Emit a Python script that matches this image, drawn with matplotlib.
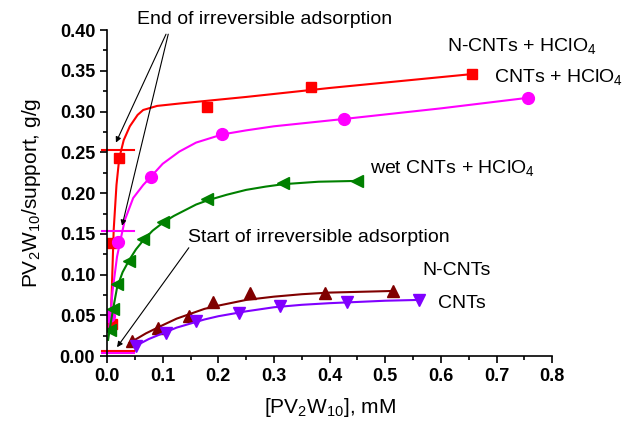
import matplotlib
matplotlib.use('Agg')
import matplotlib.pyplot as plt
from matplotlib.ticker import MultipleLocator

plt.rcParams['font.family'] = ['Liberation Sans', 'DejaVu Sans']
plt.rcParams['mathtext.default'] = 'regular'

## datos (mM, g/g)
# N-CNTs + HClO4
n_acid_x = [0.009, 0.009, 0.022, 0.180, 0.367, 0.655]
n_acid_y = [0.040, 0.139, 0.243, 0.306, 0.330, 0.346]
n_acid_fit_x = [0.006, 0.009, 0.012, 0.017, 0.022, 0.030, 0.041, 0.055, 0.065, 0.090, 0.131, 0.250, 0.400, 0.655]
n_acid_fit_y = [0.030, 0.090, 0.155, 0.210, 0.243, 0.265, 0.282, 0.296, 0.302, 0.307, 0.310, 0.318, 0.329, 0.346]

# CNTs + HClO4
c_acid_x = [0.003, 0.020, 0.079, 0.207, 0.426, 0.757]
c_acid_y = [0.049, 0.140, 0.220, 0.273, 0.291, 0.317]
c_acid_fit_x = [0.004, 0.010, 0.018, 0.025, 0.032, 0.047, 0.065, 0.080, 0.100, 0.130, 0.160, 0.207, 0.250, 0.300, 0.426, 0.600, 0.757]
c_acid_fit_y = [0.035, 0.080, 0.122, 0.145, 0.167, 0.194, 0.210, 0.221, 0.236, 0.251, 0.262, 0.272, 0.277, 0.282, 0.291, 0.304, 0.317]

# wet CNTs + HClO4
wet_x = [0.005, 0.011, 0.018, 0.040, 0.065, 0.101, 0.180, 0.317, 0.450]
wet_y = [0.032, 0.058, 0.089, 0.117, 0.144, 0.164, 0.193, 0.212, 0.215]
wet_fit_x = [0.002, 0.005, 0.011, 0.018, 0.028, 0.040, 0.052, 0.065, 0.082, 0.101, 0.120, 0.140, 0.160, 0.180, 0.215, 0.250, 0.285, 0.317, 0.380, 0.450]
wet_fit_y = [0.020, 0.034, 0.058, 0.084, 0.103, 0.118, 0.131, 0.142, 0.154, 0.164, 0.172, 0.179, 0.186, 0.191, 0.198, 0.204, 0.208, 0.211, 0.214, 0.215]

# N-CNTs
n_x = [0.045, 0.092, 0.148, 0.190, 0.257, 0.392, 0.514]
n_y = [0.019, 0.035, 0.049, 0.066, 0.078, 0.078, 0.080]
n_fit_x = [0.040, 0.070, 0.100, 0.125, 0.150, 0.175, 0.200, 0.250, 0.300, 0.350, 0.400, 0.515]
n_fit_y = [0.016, 0.028, 0.038, 0.046, 0.052, 0.058, 0.062, 0.069, 0.073, 0.076, 0.078, 0.080]

# CNTs
c_x = [0.052, 0.106, 0.160, 0.237, 0.310, 0.432, 0.561]
c_y = [0.012, 0.028, 0.043, 0.053, 0.062, 0.067, 0.069]
c_fit_x = [0.050, 0.075, 0.100, 0.125, 0.150, 0.175, 0.200, 0.250, 0.300, 0.350, 0.400, 0.500, 0.561]
c_fit_y = [0.012, 0.021, 0.028, 0.035, 0.040, 0.045, 0.049, 0.055, 0.060, 0.063, 0.065, 0.068, 0.069]

# limites de adsorcion irreversible
hl_x = [-0.009, 0.048]
end_red_y = 0.253
end_mag_y = 0.153
start_red_y = 0.0065
start_mag_y = 0.004

red = '#FF0000'
mag = '#FF00FF'
green = '#008000'
brown = '#800000'
violet = '#8000FF'

fig = plt.figure(figsize=(6.37, 4.24), dpi=100)
ax = fig.add_axes([0.168, 0.160, 0.699, 0.769])

ax.plot(n_acid_fit_x, n_acid_fit_y, color=red, lw=1.5)
ax.plot(n_acid_x, n_acid_y, 's', color=red, ms=7)
ax.plot(c_acid_fit_x, c_acid_fit_y, color=mag, lw=1.5)
ax.plot(c_acid_x, c_acid_y, 'o', color=mag, ms=8.5)
ax.plot(wet_fit_x, wet_fit_y, color=green, lw=1.5)
ax.plot(wet_x, wet_y, '<', color=green, ms=9)
ax.plot(n_fit_x, n_fit_y, color=brown, lw=1.5)
ax.plot(n_x, n_y, '^', color=brown, ms=9)
ax.plot(c_fit_x, c_fit_y, color=violet, lw=1.5)
ax.plot(c_x, c_y, 'v', color=violet, ms=9)

ax.plot(hl_x, [end_red_y] * 2, color=red, lw=1.5, clip_on=False)
ax.plot(hl_x, [end_mag_y] * 2, color=mag, lw=1.5, clip_on=False)
ax.plot(hl_x, [start_red_y] * 2, color=red, lw=1.5, clip_on=False)
ax.plot(hl_x, [start_mag_y] * 2, color=mag, lw=1.5, clip_on=False)

## textos y flechas
fs = 14
ax.text(0.054, 0.413, 'End of irreversible adsorption', fontsize=fs, va='center')
ax.text(0.146, 0.145, 'Start of irreversible adsorption', fontsize=fs, va='center')
arrow = dict(arrowstyle='-|>', color='k', lw=0.8, mutation_scale=8, shrinkA=0, shrinkB=0)
ax.annotate('', xy=(0.016, 0.262), xytext=(0.106, 0.395), arrowprops=arrow)
ax.annotate('', xy=(0.027, 0.160), xytext=(0.110, 0.395), arrowprops=arrow)
ax.annotate('', xy=(0.018, 0.011), xytext=(0.147, 0.133), arrowprops=arrow)

ax.text(0.610, 0.380, 'N-CNTs + HClO$_4$', fontsize=fs, va='center')
ax.text(0.696, 0.343, 'CNTs + HClO$_4$', fontsize=fs, va='center', clip_on=False)
ax.text(0.473, 0.231, 'wet CNTs + HClO$_4$', fontsize=fs, va='center')
ax.text(0.567, 0.105, 'N-CNTs', fontsize=fs, va='center')
ax.text(0.595, 0.065, 'CNTs', fontsize=fs, va='center')

ax.set_xlim(0, 0.8)
ax.set_ylim(0, 0.4)
ax.xaxis.set_major_locator(MultipleLocator(0.1))
ax.xaxis.set_minor_locator(MultipleLocator(0.05))
ax.yaxis.set_major_locator(MultipleLocator(0.05))
ax.yaxis.set_minor_locator(MultipleLocator(0.025))
ax.set_xticklabels([f'{v:.1f}' for v in ax.get_xticks()])
ax.set_yticklabels([f'{v:.2f}' for v in ax.get_yticks()])
for lab in ax.get_xticklabels() + ax.get_yticklabels():
    lab.set_fontweight('bold')
ax.tick_params(which='major', direction='out', length=5, width=1.2, labelsize=13)
ax.tick_params(which='minor', direction='out', length=3, width=1.2)
ax.spines['top'].set_visible(False)
ax.spines['right'].set_visible(False)
ax.spines['left'].set_linewidth(1.2)
ax.spines['bottom'].set_linewidth(1.2)

ax.set_xlabel('[PV$_2$W$_{10}$], mM', fontsize=15, labelpad=8)
ax.set_ylabel('PV$_2$W$_{10}$/support, g/g', fontsize=15, labelpad=12)

plt.savefig('out.png', dpi=100)
